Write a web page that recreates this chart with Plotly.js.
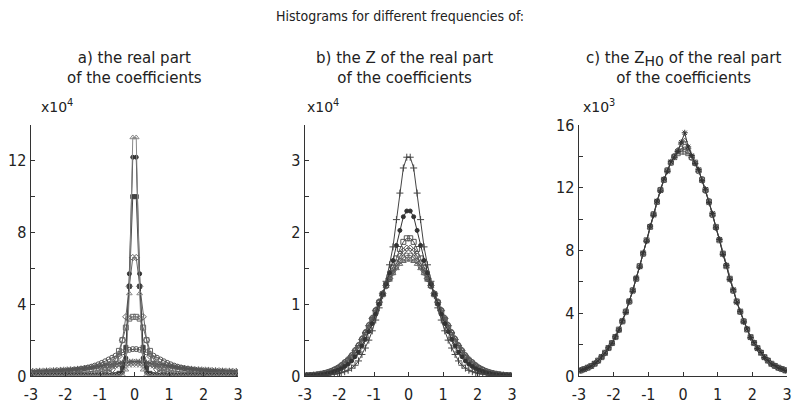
<!DOCTYPE html>
<html>
<head>
<meta charset="utf-8">
<script src="https://cdn.plot.ly/plotly-3.0.1.min.js"></script>
<style>
  html, body { margin: 0; padding: 0; background: #fff; }
  #plot { width: 800px; height: 403px; }
</style>
</head>
<body>
<div id="plot"></div>
<script>
// bin centres shared by all three histograms
const binCenters = [
  -2.95, -2.85, -2.75, -2.65, -2.55, -2.45, -2.35, -2.25, -2.15, -2.05,
  -1.95, -1.85, -1.75, -1.65, -1.55, -1.45, -1.35, -1.25, -1.15, -1.05,
  -0.95, -0.85, -0.75, -0.65, -0.55, -0.45, -0.35, -0.25, -0.15, -0.05,
  0.05, 0.15, 0.25, 0.35, 0.45, 0.55, 0.65, 0.75, 0.85, 0.95,
  1.05, 1.15, 1.25, 1.35, 1.45, 1.55, 1.65, 1.75, 1.85, 1.95,
  2.05, 2.15, 2.25, 2.35, 2.45, 2.55, 2.65, 2.75, 2.85, 2.95
];

// a) real part, counts x10^4
const aTri = [
  0.01, 0.01, 0.01, 0.01, 0.01, 0.01, 0.01, 0.01, 0.01, 0.01, 0.01, 0.01, 0.01, 0.01, 0.01,
  0.01, 0.01, 0.01, 0.01, 0.01, 0.01, 0.01, 0.01, 0.015, 0.02, 0.03, 0.06, 0.35, 4.6, 13.3,
  13.3, 4.6, 0.35, 0.06, 0.03, 0.02, 0.015, 0.01, 0.01, 0.01, 0.01, 0.01, 0.01, 0.01, 0.01,
  0.01, 0.01, 0.01, 0.01, 0.01, 0.01, 0.01, 0.01, 0.01, 0.01, 0.01, 0.01, 0.01, 0.01, 0.01
];
const aDot = [
  0.02, 0.02, 0.02, 0.02, 0.02, 0.02, 0.02, 0.02, 0.02, 0.02, 0.02, 0.02, 0.02, 0.02, 0.02,
  0.02, 0.02, 0.02, 0.02, 0.02, 0.02, 0.02, 0.025, 0.03, 0.04, 0.07, 0.2, 1.0, 5.7, 12.2,
  12.2, 5.7, 1.0, 0.2, 0.07, 0.04, 0.03, 0.025, 0.02, 0.02, 0.02, 0.02, 0.02, 0.02, 0.02,
  0.02, 0.02, 0.02, 0.02, 0.02, 0.02, 0.02, 0.02, 0.02, 0.02, 0.02, 0.02, 0.02, 0.02, 0.02
];
const aSq = [
  0.03, 0.03, 0.03, 0.03, 0.03, 0.03, 0.03, 0.03, 0.03, 0.03, 0.03, 0.03, 0.03, 0.03, 0.03,
  0.03, 0.03, 0.03, 0.03, 0.03, 0.03, 0.035, 0.04, 0.05, 0.07, 0.15, 0.45, 1.6, 5.0, 10.0,
  10.0, 5.0, 1.6, 0.45, 0.15, 0.07, 0.05, 0.04, 0.035, 0.03, 0.03, 0.03, 0.03, 0.03, 0.03,
  0.03, 0.03, 0.03, 0.03, 0.03, 0.03, 0.03, 0.03, 0.03, 0.03, 0.03, 0.03, 0.03, 0.03, 0.03
];
const aDia = [
  0.02, 0.02, 0.025, 0.025, 0.025, 0.025, 0.03, 0.03, 0.03, 0.03,
  0.03, 0.035, 0.035, 0.04, 0.04, 0.045, 0.05, 0.055, 0.065, 0.08,
  0.11, 0.15, 0.22, 0.35, 0.6, 1.1, 2.0, 3.3, 5.0, 6.6,
  6.6, 5.0, 3.3, 2.0, 1.1, 0.6, 0.35, 0.22, 0.15, 0.11,
  0.08, 0.065, 0.055, 0.05, 0.045, 0.04, 0.04, 0.035, 0.035, 0.03,
  0.03, 0.03, 0.03, 0.03, 0.025, 0.025, 0.025, 0.025, 0.02, 0.02
];
const aSqOpen = [
  0.015, 0.015, 0.02, 0.02, 0.02, 0.025, 0.025, 0.03, 0.03, 0.035,
  0.04, 0.045, 0.05, 0.055, 0.065, 0.075, 0.09, 0.11, 0.14, 0.18,
  0.24, 0.32, 0.45, 0.65, 0.95, 1.4, 2.0, 2.7, 3.2, 3.3,
  3.3, 3.2, 2.7, 2.0, 1.4, 0.95, 0.65, 0.45, 0.32, 0.24,
  0.18, 0.14, 0.11, 0.09, 0.075, 0.065, 0.055, 0.05, 0.045, 0.04,
  0.035, 0.03, 0.03, 0.025, 0.025, 0.02, 0.02, 0.02, 0.015, 0.015
];
const aCirc = [
  0.17, 0.18, 0.19, 0.2, 0.21, 0.22, 0.23, 0.24, 0.255, 0.27,
  0.29, 0.31, 0.33, 0.36, 0.39, 0.43, 0.47, 0.52, 0.58, 0.65,
  0.73, 0.82, 0.92, 1.02, 1.13, 1.23, 1.32, 1.4, 1.46, 1.5,
  1.5, 1.46, 1.4, 1.32, 1.23, 1.13, 1.02, 0.92, 0.82, 0.73,
  0.65, 0.58, 0.52, 0.47, 0.43, 0.39, 0.36, 0.33, 0.31, 0.29,
  0.27, 0.255, 0.24, 0.23, 0.22, 0.21, 0.2, 0.19, 0.18, 0.17
];
const aStar = [
  0.28, 0.28, 0.29, 0.29, 0.3, 0.31, 0.32, 0.33, 0.34, 0.35,
  0.36, 0.37, 0.38, 0.4, 0.42, 0.44, 0.46, 0.48, 0.51, 0.54,
  0.57, 0.6, 0.63, 0.66, 0.69, 0.72, 0.75, 0.77, 0.79, 0.8,
  0.8, 0.79, 0.77, 0.75, 0.72, 0.69, 0.66, 0.63, 0.6, 0.57,
  0.54, 0.51, 0.48, 0.46, 0.44, 0.42, 0.4, 0.38, 0.37, 0.36,
  0.35, 0.34, 0.33, 0.32, 0.31, 0.3, 0.29, 0.29, 0.28, 0.28
];
const aCross = [
  0.12, 0.13, 0.14, 0.15, 0.16, 0.18, 0.2, 0.22, 0.24, 0.26,
  0.28, 0.3, 0.32, 0.34, 0.36, 0.38, 0.4, 0.42, 0.44, 0.46,
  0.48, 0.5, 0.52, 0.54, 0.56, 0.58, 0.59, 0.6, 0.61, 0.62,
  0.62, 0.61, 0.6, 0.59, 0.58, 0.56, 0.54, 0.52, 0.5, 0.48,
  0.46, 0.44, 0.42, 0.4, 0.38, 0.36, 0.34, 0.32, 0.3, 0.28,
  0.26, 0.24, 0.22, 0.2, 0.18, 0.16, 0.15, 0.14, 0.13, 0.12
];

// b) Z of the real part, counts x10^4
const bPlus = [
  0.003, 0.004, 0.005, 0.006, 0.008, 0.01, 0.013, 0.018, 0.025, 0.033,
  0.045, 0.06, 0.08, 0.11, 0.15, 0.21, 0.3, 0.39, 0.5, 0.63,
  0.78, 0.95, 1.12, 1.32, 1.55, 1.8, 2.18, 2.55, 2.9, 3.05,
  3.05, 2.9, 2.55, 2.18, 1.8, 1.55, 1.32, 1.12, 0.95, 0.78,
  0.63, 0.5, 0.39, 0.3, 0.21, 0.15, 0.11, 0.08, 0.06, 0.045,
  0.033, 0.025, 0.018, 0.013, 0.01, 0.008, 0.006, 0.005, 0.004, 0.003
];
const bDot = [
  0.006, 0.008, 0.01, 0.014, 0.019, 0.026, 0.034, 0.046, 0.061, 0.079,
  0.1, 0.133, 0.164, 0.21, 0.27, 0.33, 0.42, 0.51, 0.62, 0.73,
  0.86, 1.0, 1.14, 1.28, 1.44, 1.61, 1.82, 2.03, 2.22, 2.3,
  2.3, 2.22, 2.03, 1.82, 1.61, 1.44, 1.28, 1.14, 1.0, 0.86,
  0.73, 0.62, 0.51, 0.42, 0.33, 0.27, 0.21, 0.164, 0.133, 0.1,
  0.079, 0.061, 0.046, 0.034, 0.026, 0.019, 0.014, 0.01, 0.008, 0.006
];
const bSq = [
  0.007, 0.009, 0.013, 0.018, 0.025, 0.034, 0.045, 0.06, 0.08, 0.1,
  0.13, 0.17, 0.21, 0.26, 0.32, 0.39, 0.48, 0.57, 0.67, 0.78,
  0.9, 1.02, 1.14, 1.27, 1.38, 1.51, 1.64, 1.77, 1.87, 1.92,
  1.92, 1.87, 1.77, 1.64, 1.51, 1.38, 1.27, 1.14, 1.02, 0.9,
  0.78, 0.67, 0.57, 0.48, 0.39, 0.32, 0.26, 0.21, 0.17, 0.13,
  0.1, 0.08, 0.06, 0.045, 0.034, 0.025, 0.018, 0.013, 0.009, 0.007
];
const bDia = [
  0.007, 0.01, 0.014, 0.019, 0.027, 0.037, 0.049, 0.065, 0.086, 0.11,
  0.143, 0.185, 0.22, 0.28, 0.35, 0.42, 0.51, 0.6, 0.7, 0.8,
  0.91, 1.03, 1.15, 1.26, 1.36, 1.47, 1.58, 1.67, 1.74, 1.78,
  1.78, 1.74, 1.67, 1.58, 1.47, 1.36, 1.26, 1.15, 1.03, 0.91,
  0.8, 0.7, 0.6, 0.51, 0.42, 0.35, 0.28, 0.22, 0.185, 0.143,
  0.11, 0.086, 0.065, 0.049, 0.037, 0.027, 0.019, 0.014, 0.01, 0.007
];
const bCirc = [
  0.008, 0.011, 0.015, 0.02, 0.028, 0.039, 0.051, 0.069, 0.091, 0.117,
  0.151, 0.194, 0.234, 0.29, 0.36, 0.43, 0.52, 0.61, 0.71, 0.81,
  0.92, 1.04, 1.15, 1.25, 1.35, 1.44, 1.53, 1.6, 1.65, 1.68,
  1.68, 1.65, 1.6, 1.53, 1.44, 1.35, 1.25, 1.15, 1.04, 0.92,
  0.81, 0.71, 0.61, 0.52, 0.43, 0.36, 0.29, 0.234, 0.194, 0.151,
  0.117, 0.091, 0.069, 0.051, 0.039, 0.028, 0.02, 0.015, 0.011, 0.008
];
const bTri = [
  0.008, 0.011, 0.015, 0.021, 0.029, 0.04, 0.053, 0.071, 0.094, 0.12,
  0.155, 0.2, 0.24, 0.3, 0.37, 0.44, 0.53, 0.62, 0.72, 0.82,
  0.93, 1.04, 1.15, 1.25, 1.34, 1.43, 1.5, 1.56, 1.6, 1.62,
  1.62, 1.6, 1.56, 1.5, 1.43, 1.34, 1.25, 1.15, 1.04, 0.93,
  0.82, 0.72, 0.62, 0.53, 0.44, 0.37, 0.3, 0.24, 0.2, 0.155,
  0.12, 0.094, 0.071, 0.053, 0.04, 0.029, 0.021, 0.015, 0.011, 0.008
];

// c) Z_H0 of the real part, counts x10^3
const cStar = [
  0.37, 0.42, 0.54, 0.62, 0.8, 0.96, 1.22, 1.45, 1.8, 2.08,
  2.5, 2.92, 3.52, 4.05, 4.78, 5.4, 6.25, 6.95, 7.85, 8.6,
  9.55, 10.25, 11.15, 11.8, 12.55, 13.05, 13.65, 13.95, 14.3, 14.9,
  15.5, 14.6, 14.05, 13.55, 13.15, 12.45, 11.9, 11.05, 10.35, 9.45,
  8.7, 7.75, 7.05, 6.15, 5.5, 4.7, 4.12, 3.45, 3.0, 2.45,
  2.12, 1.75, 1.5, 1.18, 1.0, 0.76, 0.66, 0.52, 0.45, 0.35
];
const cTri = [
  0.36, 0.44, 0.53, 0.64, 0.78, 0.98, 1.2, 1.48, 1.78, 2.1,
  2.48, 2.95, 3.5, 4.1, 4.75, 5.45, 6.2, 7.0, 7.8, 8.65,
  9.5, 10.3, 11.1, 11.85, 12.5, 13.1, 13.6, 14.0, 14.4, 14.85,
  15.0, 14.55, 14.0, 13.6, 13.1, 12.5, 11.85, 11.1, 10.3, 9.5,
  8.65, 7.8, 7.0, 6.2, 5.45, 4.75, 4.1, 3.5, 2.95, 2.48,
  2.1, 1.78, 1.48, 1.2, 0.98, 0.78, 0.64, 0.53, 0.44, 0.36
];
const cCirc = [
  0.34, 0.44, 0.53, 0.63, 0.79, 0.97, 1.21, 1.47, 1.79, 2.09,
  2.5, 2.94, 3.48, 4.12, 4.72, 5.48, 6.18, 7.02, 7.78, 8.62,
  9.52, 10.32, 11.08, 11.88, 12.48, 13.12, 13.58, 14.02, 14.35, 14.5,
  14.6, 14.3, 13.9, 13.55, 13.05, 12.55, 11.8, 11.15, 10.25, 9.45,
  8.7, 7.8, 7.05, 6.2, 5.42, 4.75, 4.08, 3.5, 2.98, 2.46,
  2.12, 1.76, 1.5, 1.2, 0.99, 0.78, 0.65, 0.52, 0.45, 0.37
];
const cSq = [
  0.36, 0.44, 0.53, 0.64, 0.78, 0.98, 1.2, 1.48, 1.78, 2.1,
  2.48, 2.96, 3.48, 4.1, 4.75, 5.45, 6.2, 7.0, 7.8, 8.65,
  9.5, 10.3, 11.1, 11.85, 12.5, 13.1, 13.6, 13.95, 14.2, 14.3,
  14.3, 14.2, 13.95, 13.6, 13.1, 12.5, 11.85, 11.1, 10.3, 9.5,
  8.65, 7.8, 7.0, 6.2, 5.45, 4.75, 4.1, 3.48, 2.96, 2.48,
  2.1, 1.78, 1.48, 1.2, 0.98, 0.78, 0.64, 0.53, 0.44, 0.36
];

// tick positions and labels (unlabelled ticks go on the minor ticks)
const xTicks = [-3, -2, -1, 0, 1, 2, 3];
const xLabels = ["-3", "-2", "-1", "0", "1", "2", "3"];
const yTicksA = [0, 4, 8, 12];
const yMinorA = [2, 6, 10, 14];
const yTicksB = [0, 1, 2, 3];
const yMinorB = [0.5, 1.5, 2.5, 3.5];
const yTicksC = [0, 4, 8, 12, 16];
const yMinorC = [2, 6, 10, 14];

const COND = "'DejaVu Sans Condensed', 'DejaVu Sans', sans-serif";
const SANS = "'DejaVu Sans', sans-serif";

function series(y, axis, symbol, color, size) {
  return {
    x: binCenters,
    y: y,
    xaxis: "x" + axis,
    yaxis: "y" + axis,
    type: "scatter",
    mode: "lines+markers",
    line: { color: color, width: 1 },
    marker: {
      symbol: symbol,
      size: size || 5,
      color: color,
      line: { color: color, width: 1 },
    },
    showlegend: false,
  };
}

const traces = [
  // a)
  series(aCross, "", "x-thin-open", "#777"),
  series(aStar, "", "asterisk-open", "#555"),
  series(aCirc, "", "circle-open", "#555"),
  series(aSqOpen, "", "square-open", "#666"),
  series(aDia, "", "diamond-open", "#666"),
  series(aSq, "", "square", "#444", 4),
  series(aDot, "", "circle", "#333", 4),
  series(aTri, "", "triangle-up-open", "#888"),
  // b)
  series(bTri, "2", "triangle-up-open", "#666"),
  series(bCirc, "2", "circle-open", "#666"),
  series(bDia, "2", "diamond-open", "#555"),
  series(bSq, "2", "square-open", "#555"),
  series(bDot, "2", "circle", "#333", 4),
  series(bPlus, "2", "cross-thin-open", "#444", 5),
  // c)
  series(cSq, "3", "square-open", "#666"),
  series(cCirc, "3", "circle-open", "#555"),
  series(cTri, "3", "triangle-up-open", "#666"),
  series(cStar, "3", "asterisk-open", "#333"),
];

function xAxis(domain, anchor) {
  return {
    domain: domain,
    anchor: anchor,
    range: [-3, 3],
    tickvals: xTicks,
    ticktext: xLabels,
    ticks: "inside",
    ticklen: 4,
    tickcolor: "#333",
    ticklabelstandoff: 3,
    showline: true,
    linecolor: "#333",
    linewidth: 1.5,
    showgrid: false,
    zeroline: false,
    tickfont: { family: COND, size: 16, color: "#222" },
  };
}

function yAxis(anchor, top, vals, minorVals) {
  return {
    domain: [0.067, 0.69],
    anchor: anchor,
    range: [0, top],
    tickvals: vals,
    ticks: "inside",
    ticklen: 4,
    tickcolor: "#333",
    minor: {
      tickvals: minorVals,
      ticks: "inside",
      ticklen: 4,
      tickcolor: "#333",
      showgrid: false,
    },
    showline: true,
    linecolor: "#333",
    linewidth: 1.5,
    showgrid: false,
    zeroline: false,
    tickfont: { family: COND, size: 16, color: "#222" },
  };
}

const titleFont = { family: SANS, size: 15, color: "#222" };
const scaleFont = { family: SANS, size: 14, color: "#222" };

function note(text, x, y, anchor, font) {
  return {
    text: text,
    x: x, y: y, xref: "paper", yref: "paper",
    xanchor: anchor, yanchor: "middle", showarrow: false,
    font: font,
  };
}

const layout = {
  width: 800,
  height: 403,
  margin: { l: 0, r: 0, t: 0, b: 0 },
  paper_bgcolor: "#fff",
  plot_bgcolor: "#fff",
  hovermode: false,
  xaxis: xAxis([0.03875, 0.2975], "y"),
  xaxis2: xAxis([0.38125, 0.64], "y2"),
  xaxis3: xAxis([0.72375, 0.98375], "y3"),
  yaxis: yAxis("x", 14, yTicksA, yMinorA),
  yaxis2: yAxis("x2", 3.5, yTicksB, yMinorB),
  yaxis3: yAxis("x3", 16, yTicksC, yMinorC),
  annotations: [
    note("Histograms for different frequencies of:", 0.5, 0.96, "center",
      { family: COND, size: 14, color: "#222" }),
    note("a) the real part<br>of the coefficients", 0.168, 0.832, "center", titleFont),
    note("b) the Z of the real part<br>of the coefficients", 0.505, 0.832, "center", titleFont),
    note("c) the Z<sub><span style='font-size:14px'>H0</span></sub> of the real part<br>of the coefficients",
      0.854, 0.832, "center", titleFont),
    note("x10<sup>4</sup>", 0.049, 0.737, "left", scaleFont),
    note("x10<sup>4</sup>", 0.381, 0.737, "left", scaleFont),
    note("x10<sup>3</sup>", 0.726, 0.737, "left", scaleFont),
  ],
};

Plotly.newPlot("plot", traces, layout, { staticPlot: true, displayModeBar: false });
</script>
</body>
</html>
